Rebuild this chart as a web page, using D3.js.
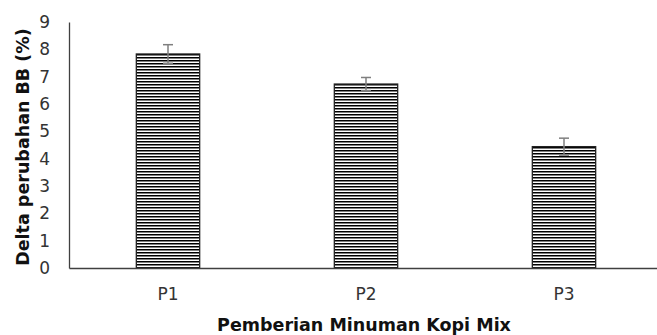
<!DOCTYPE html>
<html><head><meta charset="utf-8">
<script src="https://cdn.jsdelivr.net/npm/d3@7"></script>
<style>body{margin:0;background:#fff}svg{display:block}</style>
</head><body>
<script>
const categories = ["P1","P2","P3"];
const values = [7.83, 6.73, 4.44];
const errors = [0.34, 0.24, 0.31];
const yTicks = [0,1,2,3,4,5,6,7,8,9];

const W = 657, H = 335;
const m = {left: 69, right: 0, top: 22, bottom: 67};
const svg = d3.select("body").append("svg").attr("width", W).attr("height", H);
const FONT = "Tahoma, 'DejaVu Sans', Verdana, sans-serif";

const defs = svg.append("defs");
const pat = defs.append("pattern").attr("id","hstripe").attr("patternUnits","userSpaceOnUse")
  .attr("width", 6).attr("height", 3);
pat.append("rect").attr("width",6).attr("height",3).attr("fill","#fff");
pat.append("rect").attr("y",0).attr("width",6).attr("height",1.5).attr("fill","#000");

const x = d3.scaleBand().domain(categories).range([m.left, m.left + 594]).paddingInner(0.68).paddingOuter(0.34);
const y = d3.scaleLinear().domain([0,9]).range([H - m.bottom, m.top]);

// bars
svg.selectAll("rect.bar").data(categories).enter().append("rect")
  .attr("class","bar")
  .attr("x", d => x(d)).attr("width", x.bandwidth())
  .attr("y", (d,i) => y(values[i])).attr("height", (d,i) => y(0) - y(values[i]))
  .attr("fill","url(#hstripe)").attr("stroke","#222").attr("stroke-width",1.3);

// error bars
const eg = svg.append("g").attr("stroke","#7f7f7f").attr("stroke-width",1.5);
categories.forEach((c,i) => {
  const cx = x(c) + x.bandwidth()/2;
  eg.append("line").attr("x1",cx).attr("x2",cx).attr("y1",y(values[i]+errors[i])).attr("y2",y(values[i]-errors[i]));
  eg.append("line").attr("x1",cx-5).attr("x2",cx+5).attr("y1",y(values[i]+errors[i])).attr("y2",y(values[i]+errors[i]));
  eg.append("line").attr("x1",cx-5).attr("x2",cx+5).attr("y1",y(values[i]-errors[i])).attr("y2",y(values[i]-errors[i]));
});

// axes
const yAxis = svg.append("g").attr("transform",`translate(${m.left},0)`)
  .call(d3.axisLeft(y).tickValues(yTicks).tickSize(0).tickPadding(19).tickFormat(d3.format("d")));
yAxis.select(".domain").attr("stroke","#404040").attr("stroke-width",1.3);
yAxis.selectAll("text").attr("font-family",FONT).attr("font-size",17).attr("fill","#333");

const xAxis = svg.append("g").attr("transform",`translate(0,${y(0)})`)
  .call(d3.axisBottom(x).tickSize(0).tickPadding(20));
xAxis.select(".domain").attr("stroke","#404040").attr("stroke-width",1.3);
xAxis.selectAll("text").attr("font-family",FONT).attr("font-size",17).attr("fill","#333");

// titles
svg.append("text").attr("x", 364).attr("y", 331).attr("text-anchor","middle")
  .attr("font-family",FONT).attr("font-weight","bold").attr("font-size",17.5)
  .attr("fill","#111").text("Pemberian Minuman Kopi Mix");
svg.append("text").attr("transform","translate(29,147) rotate(-90)").attr("text-anchor","middle")
  .attr("font-family",FONT).attr("font-weight","bold").attr("font-size",17.5)
  .attr("fill","#111").text("Delta perubahan BB (%)");
</script>
</body></html>
